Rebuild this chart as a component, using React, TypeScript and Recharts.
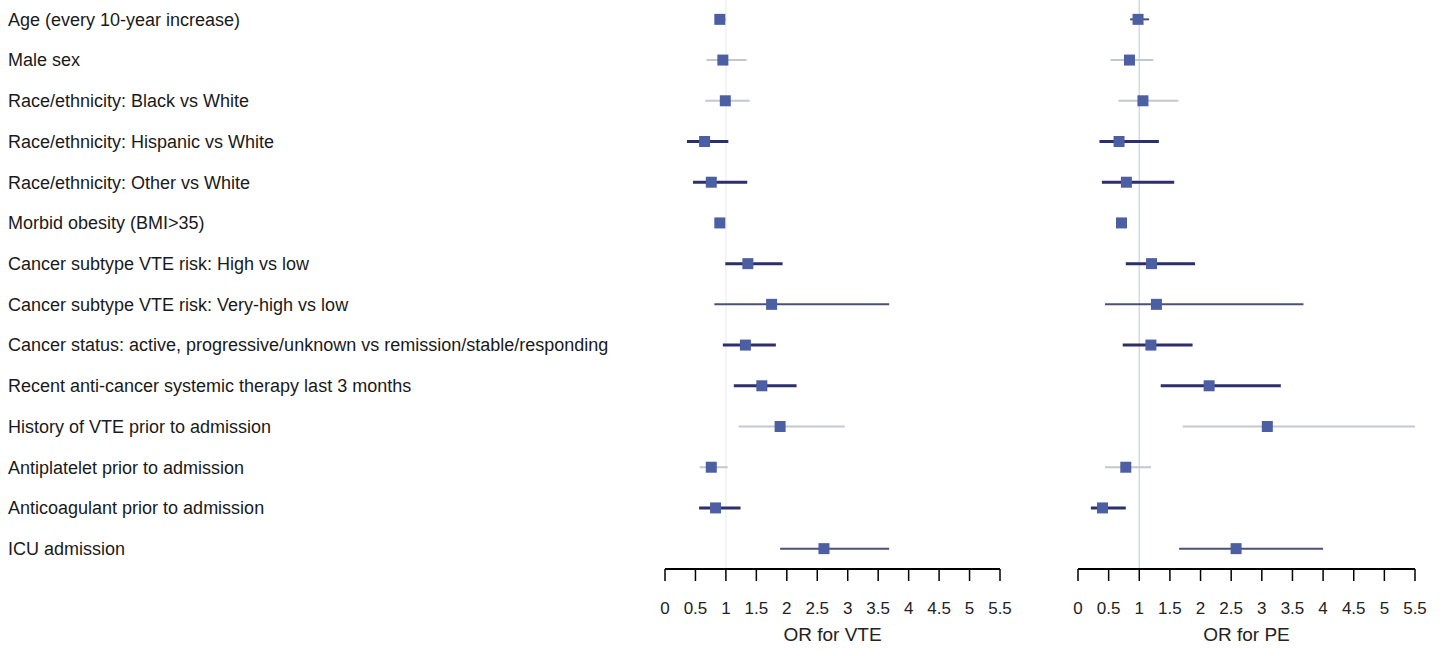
import React from 'react';
import { ScatterChart, Scatter, XAxis, YAxis, ErrorBar, ReferenceLine } from 'recharts';

const labels = [
  'Age (every 10-year increase)',
  'Male sex',
  'Race/ethnicity: Black vs White',
  'Race/ethnicity: Hispanic vs White',
  'Race/ethnicity: Other vs White',
  'Morbid obesity (BMI>35)',
  'Cancer subtype VTE risk: High vs low',
  'Cancer subtype VTE risk: Very-high vs low',
  'Cancer status: active, progressive/unknown vs remission/stable/responding',
  'Recent anti-cancer systemic therapy last 3 months',
  'History of VTE prior to admission',
  'Antiplatelet prior to admission',
  'Anticoagulant prior to admission',
  'ICU admission',
];

const vteOR = [0.90, 0.95, 0.99, 0.65, 0.76, 0.90, 1.36, 1.75, 1.32, 1.59, 1.89, 0.76, 0.83, 2.61];
const vteLow = [0.82, 0.68, 0.66, 0.36, 0.46, 0.84, 0.99, 0.81, 0.95, 1.13, 1.21, 0.57, 0.56, 1.89];
const vteHigh = [0.99, 1.34, 1.39, 1.04, 1.35, 0.97, 1.93, 3.68, 1.82, 2.16, 2.95, 1.03, 1.24, 3.68];

const peOR = [0.98, 0.84, 1.06, 0.67, 0.79, 0.71, 1.20, 1.28, 1.19, 2.14, 3.09, 0.78, 0.40, 2.58];
const peLow = [0.85, 0.53, 0.66, 0.35, 0.39, 0.65, 0.78, 0.44, 0.73, 1.35, 1.71, 0.44, 0.21, 1.65];
const peHigh = [1.16, 1.23, 1.64, 1.32, 1.57, 0.77, 1.91, 3.68, 1.87, 3.31, 5.50, 1.19, 0.78, 4.00];

const xTicks = [0, 0.5, 1, 1.5, 2, 2.5, 3, 3.5, 4, 4.5, 5, 5.5];

// style config (not data): CI line emphasis per row
const CI_STYLE_BY_ROW = ['medium', 'faint', 'faint', 'strong', 'strong', 'faint', 'strong', 'medium', 'strong', 'strong', 'faint', 'faint', 'strong', 'medium'];
const CI_STYLES: Record<string, { stroke: string; width: number }> = {
  strong: { stroke: '#2b2f6b', width: 3 },
  medium: { stroke: '#4b5079', width: 2 },
  faint: { stroke: '#c3c7d3', width: 2 },
};

const FONT = "'Liberation Sans', Arial, sans-serif";
const MARKER = '#4d5fa3';
const rowIds = labels.map((_, i) => i);

type PanelProps = {
  or: number[];
  lo: number[];
  hi: number[];
  title: string;
  showLabels: boolean;
  width: number;
  marginLeft: number;
  marginRight: number;
  refColor: string;
};

function Panel({ or, lo, hi, title, showLabels, width, marginLeft, marginRight, refColor }: PanelProps) {
  const points = rowIds.map((i) => ({ row: i, or: or[i], err: [or[i] - lo[i], hi[i] - or[i]] }));
  const groups = ['faint', 'medium', 'strong'];
  return (
    <ScatterChart width={width} height={657} margin={{ top: 0, right: marginRight, bottom: 0, left: marginLeft }}>
      <XAxis
        type="number"
        dataKey="or"
        domain={[0, 5.5]}
        ticks={xTicks}
        interval={0}
        allowDataOverflow
        height={87}
        tickSize={12}
        tickMargin={21}
        axisLine={{ stroke: '#000', strokeWidth: 2 }}
        tickLine={{ stroke: '#000', strokeWidth: 1.5 }}
        tick={{ fontSize: 17, fill: '#222', fontFamily: FONT }}
        tickFormatter={(v: number) => String(v)}
        label={(props: any) => {
          const vb = props.viewBox || {};
          return (
            <text x={vb.x + vb.width / 2} y={vb.y + 72} textAnchor="middle" fontSize={19} fill="#222" fontFamily={FONT}>
              {title}
            </text>
          );
        }}
      />
      <YAxis
        type="number"
        dataKey="row"
        domain={[-0.5, 13.5]}
        reversed
        ticks={rowIds}
        interval={0}
        hide={!showLabels}
        width={showLabels ? 665 : 0}
        axisLine={false}
        tickLine={false}
        tick={(p: any) => (
          <text x={8} y={p.y} dy="0.35em" textAnchor="start" fontSize={18} fill="#1a1a1a" fontFamily={FONT}>
            {labels[p.payload.value]}
          </text>
        )}
      />
      <ReferenceLine x={1} stroke={refColor} strokeWidth={1.5} ifOverflow="extendDomain" />
      {groups.map((g) => (
        <Scatter
          key={g}
          data={points.filter((p) => CI_STYLE_BY_ROW[p.row] === g)}
          isAnimationActive={false}
          shape={() => <g />}
        >
          <ErrorBar
            dataKey="err"
            direction="x"
            width={0}
            stroke={CI_STYLES[g].stroke}
            strokeWidth={CI_STYLES[g].width}
            isAnimationActive={false}
          />
        </Scatter>
      ))}
      <Scatter
        data={points}
        isAnimationActive={false}
        shape={(p: any) => <rect x={p.cx - 5.5} y={p.cy - 5.5} width={11} height={11} fill={MARKER} />}
      />
    </ScatterChart>
  );
}

export default function App() {
  return (
    <div style={{ position: 'absolute', left: 0, top: 0, width: 1448, height: 656, background: '#fff', overflow: 'hidden' }}>
      <div style={{ position: 'absolute', left: 0, top: -1 }}>
        <Panel or={vteOR} lo={vteLow} hi={vteHigh} title="OR for VTE" showLabels width={1020} marginLeft={0} marginRight={20} refColor="#f0f1f5" />
      </div>
      <div style={{ position: 'absolute', left: 1040, top: -1 }}>
        <Panel or={peOR} lo={peLow} hi={peHigh} title="OR for PE" showLabels={false} width={400} marginLeft={38} marginRight={25} refColor="#d3d9e8" />
      </div>
    </div>
  );
}
